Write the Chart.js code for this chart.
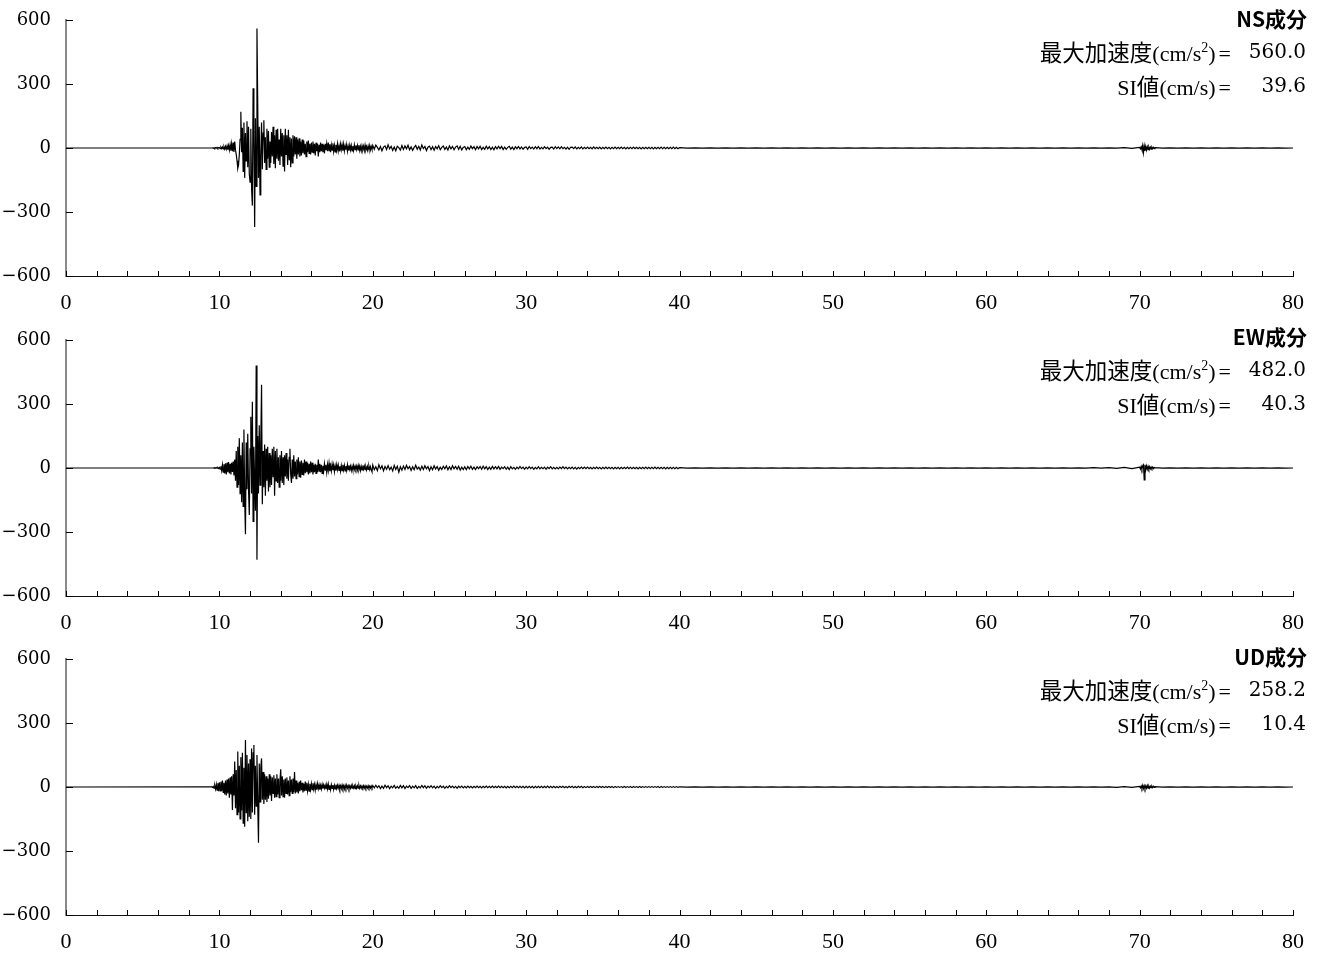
<!DOCTYPE html>
<html lang="ja">
<head>
<meta charset="utf-8">
<title>加速度波形</title>
<script src="https://cdn.jsdelivr.net/npm/chart.js@4.4.1/dist/chart.umd.min.js"></script>
<style>
    body { margin: 0; background: #fff; width: 1319px; height: 953px; overflow: hidden; position: relative; }
    canvas { position: absolute; left: 0; }
    .note { position: absolute; white-space: nowrap; line-height: 30px; color: #000; }
    .ttl { font-family: "Noto Sans CJK JP"; font-weight: bold; font-size: 21px; right: 12px; }
    .lbl { font-family: "Liberation Serif", "Noto Sans CJK JP"; font-size: 22px; right: 88px; }
    .lbl .jp { font-family: "Noto Sans CJK JP"; font-size: 22.5px; }
    .lbl sup { font-size: 14px; line-height: 0; vertical-align: 9px; }
    .lbl .eq { margin-left: 3px; }
    .val { font-family: "DejaVu Serif"; font-size: 20px; right: 13px; }
</style>
</head>
<body>
<canvas id="nsChart" width="1319" height="320" style="top:0px"></canvas>
<canvas id="ewChart" width="1319" height="320" style="top:320px"></canvas>
<canvas id="udChart" width="1319" height="313" style="top:640px"></canvas>
<script>
// axis settings
const xMin = 0, xMax = 80, xLabelStep = 10, xMinorStep = 2;
const yTicks = [-600, -300, 0, 300, 600];

// sampling of the pieces of each trace: start time (s) and step (s)
const quietStart = 0;
const strongStart = 9.5, strongStep = 0.05;
const codaStart = 20, codaStep = 0.1;
const midStart = 40, midStep = 0.5;
const blipStart = 70, blipStep = 0.05;
const endStart = 71, endStep = 0.5;

// component names and the values printed at the top right
const components = ['NS成分', 'EW成分', 'UD成分'];
const maxAcc = ['560.0', '482.0', '258.2'];
const siValues = ['39.6', '40.3', '10.4'];

// NS acceleration (cm/s2)
const nsStrong = [
    0, 1, -1, 1, -2, 2, -1, 3, -2, 2,
    2, -3, 4, -3, 5, -4, 6, -5, 8, -6, 10, -8, 12, -10, 15, -12, 20, -15, 25, -18,
    30, -10, -30, -60, -95, -80, -30, 40, 170, -20, 95, -110, 120, -140, 70, -60, 125, -90, 100, -120,
    -160, 90, -190, -270, 280, 40, -370, 140, -180, 560, 210, -140, 100, -220, -40, 120, -100, 70, 130, -70,
    50, -100, 90, -50, 80, -90, 30, -70, 75, -40, 100, -75, 60, -95, 85, -50, 90, -60, 40, -80,
    90, -40, 70, -85, 60, -110, 90, -30, 60, -80, 85, -55, 50, -90, 45, -70, 60, -40, 55, -30,
    50, -50, 40, -30, 45, -40, 30, -35, 40, -25, 35, -30, 20, -40, 30, -20, 35, -25, 20, -30,
    25, -20, 30, -25, 20, -35, 25, -15, 20, -40, 15, -20, 25, -15, 20, -20, 15, -25, 20, -10,
    20, -15, 25, -12, 18, -20, 14, -10, 22, -16, 12, -18, 15, -10, 20, -14, 10, -16, 18, -8,
    15, -12, 18, -14, 10, -8, 16, -15, 8, -12, 14, -9, 12, -14, 9, -11, 15, -8, 12, -7,
    12, -9, 14, -11, 8, -13, 11, -7, 9, -12, 13, -8, 7, -11, 9, -7, 12, -9, 7, -6
];
const nsCoda = [
    12, -6, 14, 3, -9, 7, -13, 4, 10, -7, 15, -4, 8, -11, 5, -13, 8, 2, -10, 12,
    -7, 10, -4, 13, -8, 5, -11, 3, 12, -6, 8, -9, 14, -3, 7, -12, 4, 9, -8, 6,
    -10, 7, -4, 11, -8, 3, 9, -7, 5, -9, 10, -4, 7, -8, 4, 10, -6, 8, -9, 3,
    7, -8, 4, -6, 9, -3, 6, -8, 7, -4, 8, -7, 3, -6, 8, -4, 6, -7, 4, -8,
    6, -4, 8, -3, 7, -7, 4, -6, 3, 8, -5, 4, -7, 6, -3, 7, -4, 5, -6, 3,
    5, -6, 7, -3, 4, -5, 6, -3, 7, -5, 3, -4, 6, -3, 4, -6, 3, 4, -5, 6,
    -3, 5, -4, 6, -3, 3, -5, 4, -6, 3, 4, -3, 5, -4, 3, -3, 5, -4, 3, -3,
    4, -3, 3, -4, 5, -3, 3, -3, 4, -4, 3, -3, 4, -3, 3, -4, 3, -3, 4, -3,
    3, -3, 4, -3, 3, -4, 3, -3, 3, -3, 4, -3, 3, -3, 3, -4, 3, -3, 3, -3,
    3, -3, 3, -4, 3, -3, 3, -3, 4, -3, 3, -3, 3, -3, 3, -3, 4, -3, 3, -3
];
const nsMid = [
    2, -1, 1, -1, 1, -1, 1, -1, 1, -1,
    1, -1, 1, -1, 1, -1, 1, -1, 1, -1,
    1, -1, 1, -1, 1, -1, 1, -1, 1, -1,
    1, -1, 1, -1, 1, -1, 1, -1, 1, -1,
    1, -1, 1, -1, 1, -1, 1, -1, 1, -1,
    1, -1, 1, -1, 1, -1, 1, -1, 2, -2
];
const nsBlip = [3, -4, 6, -8, 12, -22, 10, -14, 8, -10, 6, -8, 5, -6, 4, -5, 4, -3, 3, -3];
const nsEnd = [2, -1, 1, -1, 1, -1, 1, -1, 1, -1, 1, -1, 1, -1, 1, -1, 1, -1, 0];

// EW acceleration (cm/s2)
const ewStrong = [
    0, 0, 1, -1, 1, -1, 2, -1, 2, -2,
    3, -5, 8, -12, 15, -20, 18, -25, 22, -30, 25, -20, 28, -25, 20, -30, 25, -18, 30, -35,
    40, -60, 80, -90, 100, -80, 140, -120, 60, -160, 120, -180, 180, -140, -310, 120, -100, 160, -100, -220,
    90, 240, -120, 310, -250, 100, -60, -200, 480, -430, 150, -120, 200, -80, 120, 390, -170, 80, -90, 110,
    -130, 90, -60, 100, -110, 70, -90, 60, -80, 90, -40, 100, -130, 80, -60, 90, -70, 50, -90, 60,
    -60, 80, -70, 50, -80, 60, -40, 70, -50, 40, -60, 50, 90, -30, -70, 40, -50, 60, -40, 30,
    -50, 40, -30, 50, -40, 30, -45, 35, -30, 25, -35, 40, -25, 30, -20, 25, -30, 20, -25, 30,
    -20, 25, -30, 15, -20, 20, -25, 15, -20, 40, -15, 20, -20, 15, -25, 10, -15, 20, -10, 15,
    -20, 16, -12, 22, -15, 10, -14, 18, -10, 14, -17, 10, -13, 16, -8, 14, -11, 8, -15, 12,
    -12, 15, -9, 12, -14, 9, -12, 15, -8, 12, -7, 9, -12, 8, -9, 12, -7, 9, -6, 9,
    -9, 12, -7, 9, -12, 8, -9, 12, -6, 9, -8, 6, -9, 8, -6, 9, -8, 6, -9, -18
];
const ewCoda = [
    14, -8, 6, -12, 15, -4, 10, -13, 7, -6, 11, -8, 4, -14, 12, -7, 8, -20, 6, -10,
    9, -7, 12, -4, 7, -11, 6, -8, 13, -5, 4, -10, 8, -7, 11, -4, 7, -12, 6, -8,
    10, -5, 7, -11, 4, -7, 8, -4, 10, -8, 6, -7, 11, -4, 7, -6, 8, -10, 4, -7,
    6, -8, 7, -4, 8, -6, 4, -7, 6, -3, 7, -6, 8, -4, 6, -7, 4, -6, 7, -4,
    6, -4, 7, -6, 4, -3, 6, -6, 4, -7, 6, -4, 3, -6, 4, -4, 7, -3, 4, -6,
    4, -4, 6, -3, 4, -6, 3, -4, 6, -4, 3, -3, 4, -6, 4, -3, 6, -4, 3, -4,
    3, -4, 4, -3, 6, -3, 4, -4, 3, -3, 4, -4, 3, -5, 3, -3, 4, -3, 4, -3,
    4, -3, 3, -4, 3, -3, 4, -3, 3, -4, 3, -3, 4, -3, 3, -3, 3, -4, 3, -3,
    3, -4, 3, -3, 3, -3, 4, -3, 3, -3, 3, -3, 3, -4, 3, -3, 3, -3, 4, -3,
    3, -3, 3, -3, 4, -3, 3, -3, 3, -3, 3, -4, 3, -3, 3, -3, 3, -3, 3, -3
];
const ewMid = [
    2, -1, 1, -1, 1, -1, 1, -1, 1, -1,
    1, -1, 1, -1, 1, -1, 1, -1, 1, -1,
    1, -1, 1, -1, 1, -1, 1, -1, 1, -1,
    1, -1, 1, -1, 1, -1, 1, -1, 1, -1,
    1, -1, 1, -1, 1, -1, 1, -1, 1, -1,
    1, -1, 1, -1, 2, -1, 2, -2, 3, -3
];
const ewBlip = [4, -5, 8, -6, 10, 15, -56, 15, -8, 10, -6, 8, -5, 6, -4, 5, -3, 4, -3, 3];
const ewEnd = [2, -1, 1, -1, 1, -1, 1, -1, 1, -1, 1, -1, 1, -1, 1, -1, 1, -1, 0];

// UD acceleration (cm/s2)
const udStrong = [
    1, -2, 3, -5, 6, -10, 12, -15, 18, -20,
    22, -18, 25, -20, 30, -25, 20, -35, 30, -40, 35, -30, 40, -50, 45, -35, 50, -108, 60, -40,
    120, -100, 80, -130, 166, -120, 100, -150, 140, -110, 160, -170, 90, -186, 220, -120, 150, -160, 110, -140,
    130, -150, 180, -120, 160, 197, -130, 100, -90, 150, -80, -261, 110, -70, 90, 134, -60, 70, -80, 60,
    -60, 50, -70, 40, -55, 60, -40, 50, -65, 45, -30, 55, -50, 40, -45, 60, -35, 40, -50, 30,
    83, -40, 50, -45, 35, -50, 40, -30, 45, -35, 30, -40, 50, -25, 35, -30, 40, -25, 70, -30,
    30, -25, 20, -30, 25, -20, 30, -15, 20, -25, 15, -20, 25, -15, 20, -18, 12, -20, 15, -12,
    15, -12, 18, -10, 12, -15, 10, -12, 15, -8, 10, -12, 8, -10, 12, -8, 10, -6, 8, -10,
    12, -9, 14, -11, 8, -13, 11, -7, 9, -12, 8, -9, 11, -7, 9, -6, 8, -9, 6, -8,
    9, -7, 6, -9, 8, -6, 9, -5, 6, -8, 5, -6, 8, -5, 6, -5, 6, -8, 5, -6,
    6, -5, 8, -6, 5, -6, 5, -4, 6, -5, 5, -6, 4, -5, 6, -5, 4, -5, 5, -4
];
const udCoda = [
    7, -4, 8, -3, 6, -7, 4, -6, 8, -3, 6, -7, 4, -4, 7, -6, 3, -6, 7, -4,
    6, -7, 4, -3, 7, -6, 4, -4, 6, -7, 3, -4, 7, -3, 6, -6, 4, -3, 6, -4,
    4, -6, 3, -4, 6, -3, 4, -6, 3, -4, 6, -3, 4, -4, 3, -6, 4, -3, 4, -4,
    3, -4, 4, -3, 3, -4, 3, -3, 4, -3, 3, -4, 3, -3, 4, -3, 3, -3, 4, -3,
    3, -3, 4, -3, 3, -3, 3, -4, 3, -3, 3, -3, 4, -3, 3, -3, 3, -3, 3, -4,
    3, -3, 3, -3, 3, -4, 3, -3, 3, -3, 3, -3, 3, -3, 4, -3, 3, -3, 3, -3,
    2, -3, 3, -2, 3, -3, 2, -3, 3, -2, 3, -3, 2, -3, 3, -2, 3, -3, 2, -3,
    2, -2, 3, -2, 2, -3, 2, -2, 3, -2, 2, -3, 2, -2, 3, -2, 2, -3, 2, -2,
    2, -2, 2, -2, 3, -2, 2, -2, 2, -3, 2, -2, 2, -2, 3, -2, 2, -2, 2, -2,
    2, -2, 2, -2, 2, -2, 2, -3, 2, -2, 2, -2, 2, -2, 2, -2, 2, -2, 2, -2
];
const udMid = [
    1, -1, 1, -1, 1, -1, 1, -1, 1, -1,
    1, -1, 1, -1, 1, -1, 1, -1, 1, -1,
    1, -1, 1, -1, 1, -1, 1, -1, 1, -1,
    1, -1, 1, -1, 1, -1, 1, -1, 1, -1,
    1, -1, 1, -1, 1, -1, 1, -1, 1, -1,
    1, -1, 1, -1, 1, -1, 1, -2, 2, -2
];
const udBlip = [3, -4, 5, -6, 8, -7, 6, -8, 5, -6, 7, -5, 4, -5, 4, -3, 4, -3, 3, -2];
const udEnd = [2, -1, 1, -1, 1, -1, 1, -1, 1, -1, 1, -1, 1, -1, 1, -1, 1, -1, 0];

function toPoints(t0, dt, values) {
    return values.map((v, i) => ({ x: +(t0 + i * dt).toFixed(3), y: v }));
}

function buildTrace(strong, coda, mid, blip, end) {
    return [
        ...toPoints(quietStart, 0, [0]),
        ...toPoints(strongStart, strongStep, strong),
        ...toPoints(codaStart, codaStep, coda),
        ...toPoints(midStart, midStep, mid),
        ...toPoints(blipStart, blipStep, blip),
        ...toPoints(endStart, endStep, end)
    ];
}

const traces = [
    buildTrace(nsStrong, nsCoda, nsMid, nsBlip, nsEnd),
    buildTrace(ewStrong, ewCoda, ewMid, ewBlip, ewEnd),
    buildTrace(udStrong, udCoda, udMid, udBlip, udEnd)
];

// inward tick marks like the original plot
const innerTicks = {
    id: 'innerTicks',
    afterDraw(chart) {
        const { ctx, scales: { x, y } } = chart;
        ctx.save();
        ctx.strokeStyle = '#000';
        ctx.lineWidth = 1;
        ctx.beginPath();
        for (let v = xMin; v <= xMax; v += xMinorStep) {
            const px = Math.round(x.getPixelForValue(v)) + 0.5;
            ctx.moveTo(px, y.bottom);
            ctx.lineTo(px, y.bottom - 5);
        }
        yTicks.forEach(v => {
            const py = Math.round(y.getPixelForValue(v)) + 0.5;
            ctx.moveTo(x.left, py);
            ctx.lineTo(x.left + 7, py);
        });
        ctx.stroke();
        ctx.restore();
    }
};

function createChart(canvasId, data, padTop, axisHeight) {
    const ctx = document.getElementById(canvasId).getContext('2d');
    return new Chart(ctx, {
        type: 'line',
        data: {
            datasets: [{
                data: data,
                borderColor: '#000',
                borderWidth: 1.2,
                pointRadius: 0,
                tension: 0,
                fill: false
            }]
        },
        options: {
            responsive: false,
            animation: false,
            parsing: false,
            layout: { padding: { top: padTop, right: 26, bottom: 0, left: 0 } },
            plugins: { legend: { display: false }, tooltip: { enabled: false } },
            scales: {
                x: {
                    type: 'linear',
                    min: xMin,
                    max: xMax,
                    afterFit: scale => { scale.height = axisHeight; },
                    grid: { display: false, drawTicks: false },
                    border: { color: '#111', width: 1 },
                    ticks: {
                        stepSize: xLabelStep,
                        autoSkip: false,
                        maxRotation: 0,
                        padding: 14,
                        color: '#000',
                        font: { family: '"Liberation Serif"', size: 22 }
                    }
                },
                y: {
                    min: yTicks[0],
                    max: yTicks[yTicks.length - 1],
                    afterFit: scale => {
                        scale.width = 66;
                        // the label gap should not push the plot down
                        scale.paddingTop = 0;
                        scale.paddingBottom = 0;
                    },
                    afterBuildTicks: scale => { scale.ticks = yTicks.map(v => ({ value: v })); },
                    grid: { display: false, drawTicks: false },
                    border: { color: '#8a8a8a', width: 2 },
                    ticks: {
                        padding: 15,
                        color: '#000',
                        font: { family: '"DejaVu Serif"', size: 18 },
                        callback: v => v < 0 ? '\u2212' + (-v) : String(v)
                    }
                }
            }
        },
        plugins: [innerTicks]
    });
}

createChart('nsChart', traces[0], 20, 44);
createChart('ewChart', traces[1], 20, 44);
createChart('udChart', traces[2], 19, 38);

// notes at the top right of each panel
const noteTops = [0, 318, 638];
noteTops.forEach((top, i) => {
    const html = `
        <div class="note ttl" style="top:${top + 3}px">${components[i]}</div>
        <div class="note lbl" style="top:${top + 36}px"><span class="jp">最大加速度</span>(cm/s<sup>2</sup>)<span class="eq">=</span></div>
        <div class="note val" style="top:${top + 36}px">${maxAcc[i]}</div>
        <div class="note lbl" style="top:${top + 70}px">SI<span class="jp">値</span>(cm/s)<span class="eq">=</span></div>
        <div class="note val" style="top:${top + 70}px">${siValues[i]}</div>`;
    document.body.insertAdjacentHTML('beforeend', html);
});
</script>
</body>
</html>
